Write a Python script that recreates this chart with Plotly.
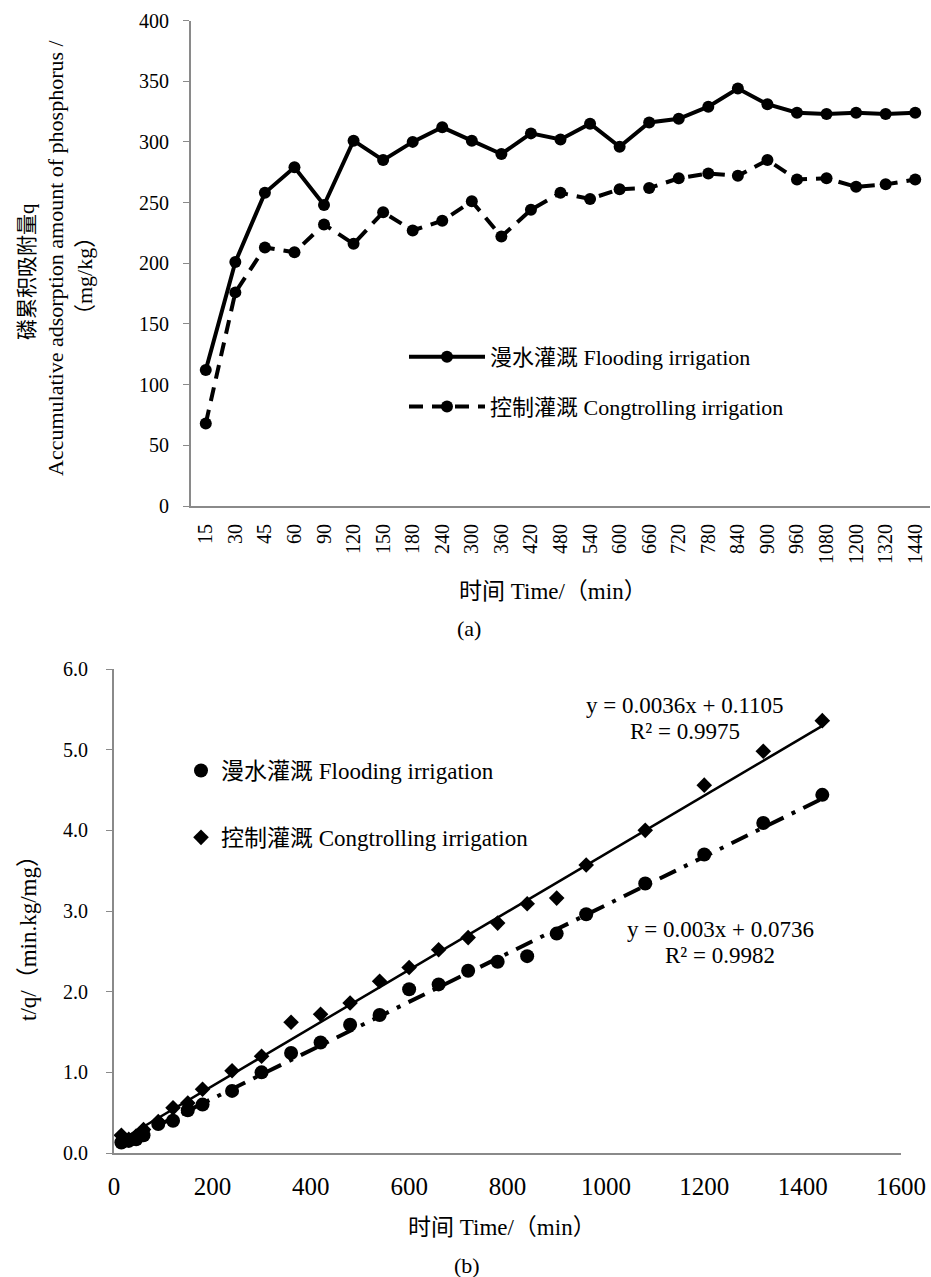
import plotly.graph_objects as go

# ---------------- data ----------------
time_labels = ["15", "30", "45", "60", "90", "120", "150", "180", "240", "300",
               "360", "420", "480", "540", "600", "660", "720", "780", "840", "900",
               "960", "1080", "1200", "1320", "1440"]
time_min = [15, 30, 45, 60, 90, 120, 150, 180, 240, 300,
            360, 420, 480, 540, 600, 660, 720, 780, 840, 900,
            960, 1080, 1200, 1320, 1440]

# (a) accumulative adsorption amount q (mg/kg)
q_flood = [112, 201, 258, 279, 248, 301, 285, 300, 312, 301,
           290, 307, 302, 315, 296, 316, 319, 329, 344, 331,
           324, 323, 324, 323, 324]
q_ctrl = [68, 176, 213, 209, 232, 216, 242, 227, 235, 251,
          222, 244, 258, 253, 261, 262, 270, 274, 272, 285,
          269, 270, 263, 265, 269]

# (b) t/q (min.kg/mg)
tq_flood = [0.13, 0.15, 0.17, 0.22, 0.36, 0.40, 0.53, 0.60, 0.77, 1.00,
            1.24, 1.37, 1.59, 1.71, 2.03, 2.09, 2.26, 2.37, 2.44, 2.72,
            2.96, 3.34, 3.70, 4.09, 4.44]
tq_ctrl = [0.22, 0.17, 0.21, 0.29, 0.39, 0.56, 0.62, 0.79, 1.02, 1.20,
           1.62, 1.72, 1.86, 2.13, 2.30, 2.52, 2.67, 2.85, 3.09, 3.16,
           3.57, 4.00, 4.56, 4.98, 5.36]

# linear fits shown on chart (slope, intercept)
fit_flood = (0.003, 0.0736)
fit_ctrl = (0.0036, 0.1105)
fit_x = [15, 1440]

name_flood = "漫水灌溉 Flooding irrigation"
name_ctrl = "控制灌溉 Congtrolling irrigation"

# ---------------- style helpers ----------------
W, H = 931, 1277
FONT = "Liberation Serif, Noto Sans CJK SC, serif"
AXC = "#8a8a8a"


def px(x):
    return x / W


def py(y):
    return 1 - y / H


fig = go.Figure()

# ---- chart (a) ----
fig.add_trace(go.Scatter(
    x=time_labels, y=q_flood, mode="lines+markers", name=name_flood,
    line=dict(color="black", width=4), marker=dict(size=12, color="black"),
    xaxis="x", yaxis="y", legend="legend", legendgroup="a1"))
fig.add_trace(go.Scatter(
    x=time_labels, y=q_ctrl, mode="lines+markers", name=name_ctrl,
    line=dict(color="black", width=4, dash="14px,9px"),
    marker=dict(size=12, color="black"),
    xaxis="x", yaxis="y", legend="legend", legendgroup="a2"))

# ---- chart (b) ----
fig.add_trace(go.Scatter(
    x=fit_x, y=[fit_flood[0] * v + fit_flood[1] for v in fit_x], mode="lines",
    line=dict(color="black", width=4, dash="18px,9px,4px,9px"),
    showlegend=False, xaxis="x2", yaxis="y2", hoverinfo="skip"))
fig.add_trace(go.Scatter(
    x=fit_x, y=[fit_ctrl[0] * v + fit_ctrl[1] for v in fit_x], mode="lines",
    line=dict(color="black", width=2.5),
    showlegend=False, xaxis="x2", yaxis="y2", hoverinfo="skip"))
fig.add_trace(go.Scatter(
    x=time_min, y=tq_flood, mode="markers", name=name_flood,
    marker=dict(size=14, color="black", symbol="circle"),
    xaxis="x2", yaxis="y2", legend="legend2", legendgroup="b1"))
fig.add_trace(go.Scatter(
    x=time_min, y=tq_ctrl, mode="markers", name=name_ctrl,
    marker=dict(size=12, color="black", symbol="diamond"),
    xaxis="x2", yaxis="y2", legend="legend2", legendgroup="b2"))

axis_common = dict(showgrid=False, zeroline=False, showline=True,
                   linecolor=AXC, linewidth=2, tickcolor=AXC,
                   automargin=False,
                   tickfont=dict(family=FONT, size=20, color="black"))

fig.update_layout(
    template="none",
    width=W, height=H,
    margin=dict(l=0, r=0, t=0, b=0, pad=0, autoexpand=False),
    paper_bgcolor="white", plot_bgcolor="white",
    font=dict(family=FONT, color="black", size=20),
    xaxis=dict(domain=[px(191), px(930)], anchor="y", type="category",
               range=[-0.5, 24.5], tickangle=-90, ticks="",
               ticklabelstandoff=8, **axis_common),
    yaxis=dict(domain=[py(506), py(20.5)], anchor="x", range=[0, 400],
               dtick=50, ticks="outside", ticklen=6, ticklabelstandoff=10,
               **axis_common),
    xaxis2=dict(domain=[px(114), px(901)], anchor="y2", range=[0, 1600],
                dtick=200, ticks="", ticklabelstandoff=10,
                **{**axis_common,
                   "tickfont": dict(family=FONT, size=25, color="black")}),
    yaxis2=dict(domain=[py(1153), py(669)], anchor="x2", range=[0, 6],
                dtick=1, tickformat=".1f", ticks="outside", ticklen=6,
                ticklabelstandoff=14, **axis_common),
    legend=dict(x=px(404), y=py(336), xanchor="left", yanchor="top",
                font=dict(family=FONT, size=22), itemwidth=76,
                traceorder="grouped", tracegroupgap=18,
                bgcolor="rgba(0,0,0,0)", borderwidth=0),
    legend2=dict(x=px(181), y=py(749), xanchor="left", yanchor="top",
                 font=dict(family=FONT, size=23), itemwidth=30,
                 traceorder="grouped", tracegroupgap=34,
                 bgcolor="rgba(0,0,0,0)", borderwidth=0),
    showlegend=True,
)

ann = []


def add_text(text, x, y, size, angle=0):
    ann.append(dict(text=text, x=px(x), y=py(y), xref="paper", yref="paper",
                    showarrow=False, textangle=angle,
                    font=dict(family=FONT, size=size, color="black"),
                    xanchor="center", yanchor="middle"))


# (a) titles
add_text("磷累积吸附量q", 27, 272, 21, -90)
add_text("Accumulative adsorption amount of phosphorus /", 56, 258, 22, -90)
add_text("（mg/kg）", 84, 276, 22, -90)
add_text("时间 Time/（min）", 553, 591, 23)
add_text("(a)", 469, 628, 22)

# (b) titles
add_text("t/q/（min.kg/mg）", 28, 933, 23, -90)
add_text("时间 Time/（min）", 502, 1227, 23)
add_text("(b)", 467, 1265, 22)

# fit equations
add_text("y = 0.0036x + 0.1105", 685, 705, 23)
add_text("R² = 0.9975", 685, 731, 23)
add_text("y = 0.003x + 0.0736", 720, 929, 23)
add_text("R² = 0.9982", 720, 955, 23)

fig.update_layout(annotations=ann)

fig.write_html("out.html")
